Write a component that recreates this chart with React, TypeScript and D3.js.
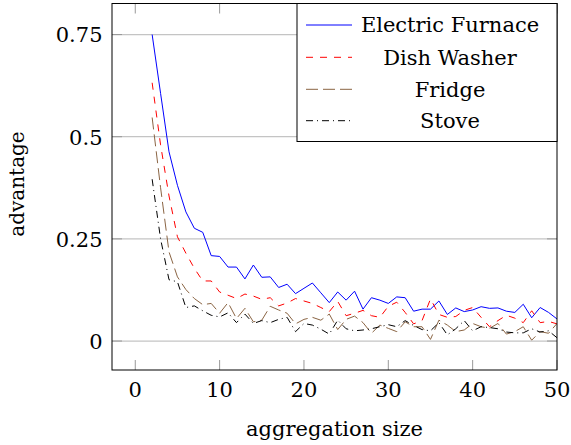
import React from "react";
import * as d3 from "d3";

const xs: number[] = d3.range(2, 51);

const electricFurnace: number[] = [
  0.75, 0.606, 0.463, 0.381, 0.316, 0.276, 0.266, 0.209, 0.207, 0.181, 0.181,
  0.152, 0.186, 0.156, 0.157, 0.131, 0.139, 0.116, 0.129, 0.142, 0.118, 0.094,
  0.12, 0.1, 0.122, 0.078, 0.106, 0.1, 0.092, 0.108, 0.106, 0.073, 0.078, 0.078,
  0.098, 0.065, 0.081, 0.072, 0.076, 0.084, 0.08, 0.081, 0.073, 0.07, 0.09,
  0.057, 0.082, 0.07, 0.054,
];

const dishWasher: number[] = [
  0.632, 0.48, 0.355, 0.255, 0.215, 0.178, 0.147, 0.147, 0.12, 0.112, 0.104,
  0.115, 0.11, 0.102, 0.106, 0.086, 0.093, 0.104, 0.098, 0.092, 0.082, 0.072,
  0.097, 0.062, 0.068, 0.075, 0.062, 0.058, 0.085, 0.095, 0.07, 0.042, 0.05,
  0.103, 0.065, 0.058, 0.06, 0.075, 0.082, 0.058, 0.035, 0.05, 0.063, 0.056,
  0.045, 0.074, 0.045, 0.048, 0.042,
];

const fridge: number[] = [
  0.547, 0.375, 0.218, 0.157, 0.126, 0.104, 0.089, 0.092, 0.068, 0.094, 0.055,
  0.08, 0.047, 0.051, 0.085, 0.076, 0.068, 0.042, 0.053, 0.058, 0.051, 0.066,
  0.028, 0.053, 0.061, 0.045, 0.019, 0.039, 0.031, 0.023, 0.047, 0.035, 0.035,
  0.004, 0.051, 0.039, 0.023, 0.027, 0.043, 0.035, 0.031, 0.043, 0.017, 0.023,
  0.035, 0.002, 0.023, 0.019, 0.043,
];

const stove: number[] = [
  0.396, 0.25, 0.15, 0.145, 0.082, 0.086, 0.074, 0.063, 0.059, 0.069, 0.045,
  0.066, 0.043, 0.05, 0.045, 0.053, 0.058, 0.023, 0.043, 0.039, 0.029, 0.017,
  0.051, 0.03, 0.025, 0.027, 0.03, 0.035, 0.04, 0.035, 0.05, 0.038, 0.028,
  0.025, 0.045, 0.015, 0.03, 0.05, 0.025, 0.035, 0.033, 0.03, 0.022, 0.02, 0.02,
  0.03, 0.022, 0.025, 0.008,
];

const xTicks: number[] = [0, 10, 20, 30, 40, 50];
const yTicks: number[] = [0, 0.25, 0.5, 0.75];
const yTickLabels: string[] = ["0", "0.25", "0.5", "0.75"];

const seriesNames: string[] = ["Electric Furnace", "Dish Washer", "Fridge", "Stove"];
const seriesColors: string[] = ["#0000ff", "#ff0000", "#8a6443", "#000000"];
const seriesDash: string[] = ["none", "7,7", "12,5", "7,4,1,4"];

const W = 571;
const H = 445;
const left = 112;
const right = 557;
const top = 3.5;
const bottom = 370;

const textStyle = { fontFamily: '"DejaVu Serif", serif' };

export default function App() {
  const x = d3.scaleLinear().domain([-2.76, 50]).range([left, right]);
  const y = d3.scaleLinear().domain([-0.0709, 0.826]).range([bottom, top]);
  const line = d3
    .line<number>()
    .x((_, i) => x(xs[i]))
    .y((d) => y(d));
  const allSeries = [electricFurnace, dishWasher, fridge, stove];

  const legendLeft = 297;
  const legendTop = top;
  const legendBottom = 141.5;
  const rowY = [25, 57.3, 89.3, 120.7];

  return (
    <svg
      width={W}
      height={H}
      style={{ position: "absolute", left: 0, top: 0, background: "#fff" }}
    >
      <defs>
        <clipPath id="plotclip">
          <rect x={left} y={top} width={right - left} height={bottom - top} />
        </clipPath>
      </defs>
      {yTicks.map((t) => (
        <line
          key={"g" + t}
          x1={left}
          x2={right}
          y1={y(t)}
          y2={y(t)}
          stroke="#c4c4c4"
          strokeWidth={1.2}
        />
      ))}
      {xTicks.map((t) => (
        <g key={"xt" + t}>
          <line x1={x(t)} x2={x(t)} y1={bottom} y2={bottom - 10} stroke="#999" strokeWidth={1} />
          <line x1={x(t)} x2={x(t)} y1={top} y2={top + 10} stroke="#999" strokeWidth={1} />
          <text x={x(t)} y={396.5} fontSize={21} textAnchor="middle" fill="#000" style={textStyle}>
            {t}
          </text>
        </g>
      ))}
      {yTicks.map((t, i) => (
        <g key={"yt" + t}>
          <line x1={left} x2={left + 10} y1={y(t)} y2={y(t)} stroke="#999" strokeWidth={1} />
          <line x1={right} x2={right - 10} y1={y(t)} y2={y(t)} stroke="#999" strokeWidth={1} />
          <text x={102.5} y={y(t) + 7.8} fontSize={21} textAnchor="end" fill="#000" style={textStyle}>
            {yTickLabels[i]}
          </text>
        </g>
      ))}
      <g clipPath="url(#plotclip)">
        {allSeries.map((s, i) => (
          <path
            key={seriesNames[i]}
            d={line(s) || ""}
            fill="none"
            stroke={seriesColors[i]}
            strokeWidth={1}
            strokeDasharray={seriesDash[i]}
            strokeLinejoin="round"
          />
        ))}
      </g>
      <rect
        x={left}
        y={top}
        width={right - left}
        height={bottom - top}
        fill="none"
        stroke="#000"
        strokeWidth={1}
      />
      <rect
        x={legendLeft}
        y={legendTop}
        width={right - legendLeft}
        height={legendBottom - legendTop}
        fill="#fff"
        stroke="#000"
        strokeWidth={1}
      />
      {seriesNames.map((n, i) => (
        <g key={"lg" + n}>
          <line
            x1={306}
            x2={352}
            y1={rowY[i]}
            y2={rowY[i]}
            stroke={seriesColors[i]}
            strokeWidth={1}
            strokeDasharray={seriesDash[i]}
          />
          <text
            x={450}
            y={rowY[i] + 7.3}
            fontSize={21}
            textAnchor="middle"
            fill="#000"
            style={textStyle}
          >
            {n}
          </text>
        </g>
      ))}
      <text x={334.5} y={436} fontSize={21} textAnchor="middle" fill="#000" style={textStyle}>
        aggregation size
      </text>
      <text
        transform={`translate(24, 184) rotate(-90)`}
        fontSize={20}
        textAnchor="middle"
        fill="#000"
        style={textStyle}
      >
        advantage
      </text>
    </svg>
  );
}
